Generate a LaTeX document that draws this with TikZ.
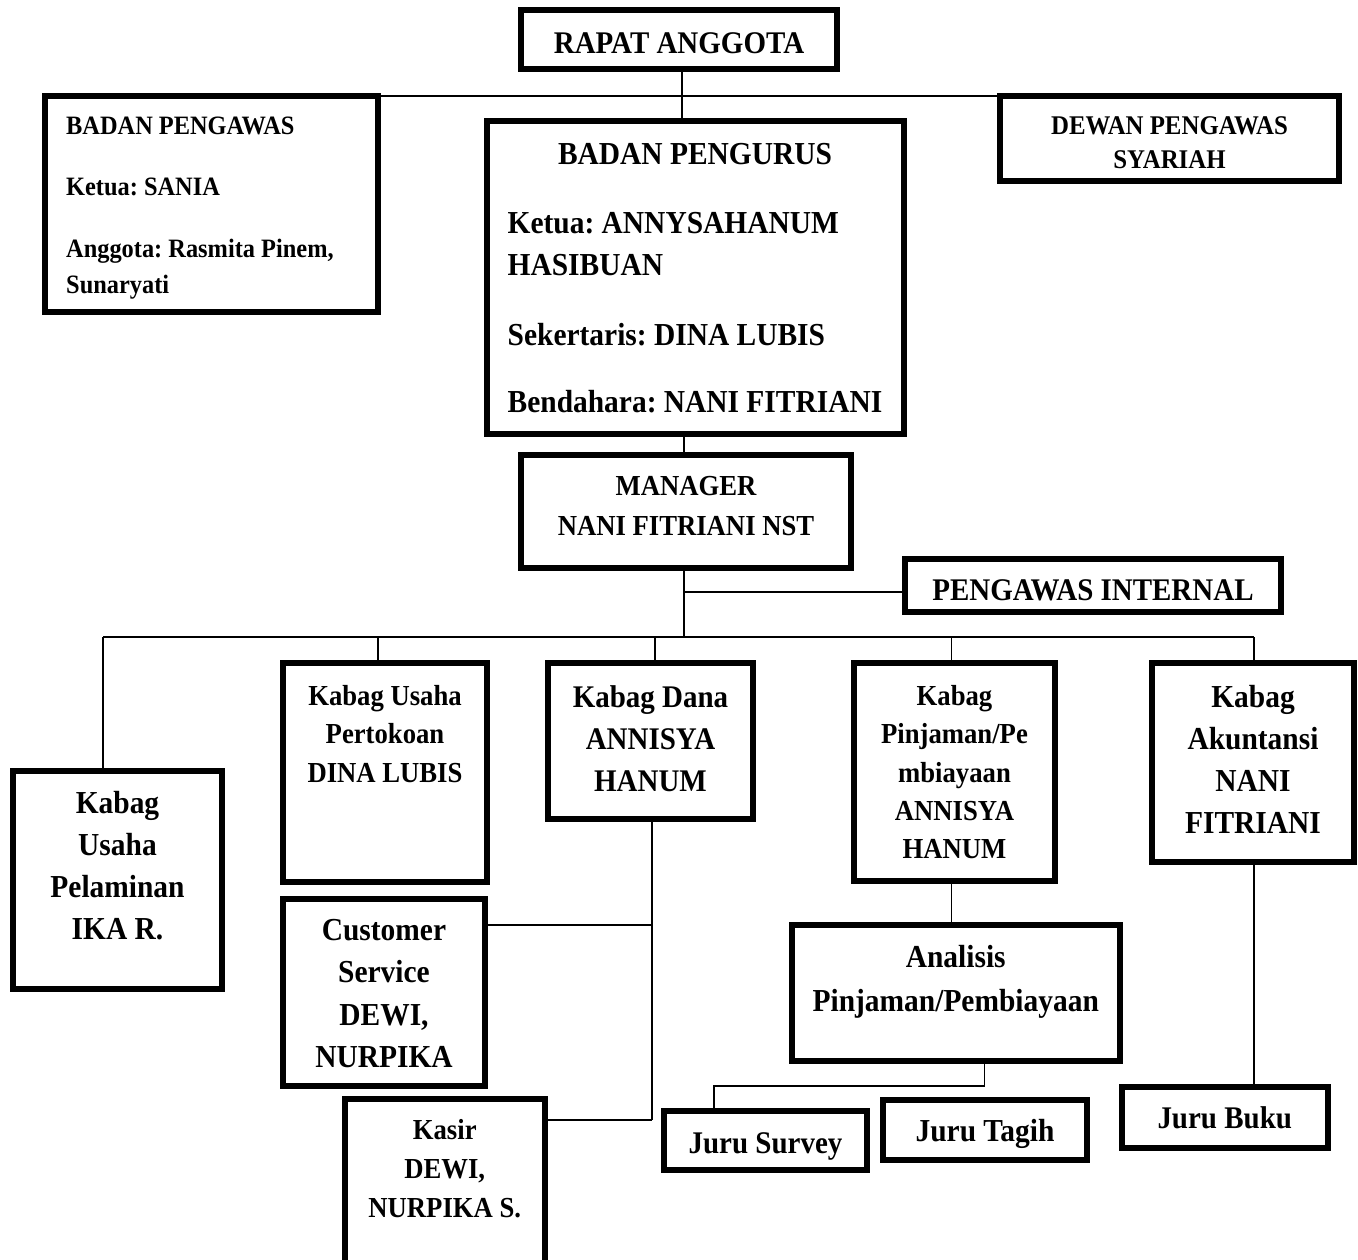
\documentclass[tikz,border=0pt]{standalone}
\usepackage{fontspec}
\setmainfont{Liberation Serif}[FakeStretch=0.92]
\frenchspacing
\tikzset{
  boxs/.style={draw=black, line width=6pt, inner sep=0pt, outer sep=0pt, fill=white},
  tx/.style={inner sep=0pt, anchor=base},
  txl/.style={inner sep=0pt, anchor=base west},
  conn/.style={draw=black, line width=1.8pt}
}
\newcommand\obox[5]{\node[boxs, minimum width={#4-#2-6}, minimum height={#5-#3-6}] (#1) at ({(#2+#4)/2},{(#3+#5)/2}) {};}
\newcommand\tline[5]{\node[tx, font=\fontsize{#2}{#2}\selectfont\bfseries] (#1) at (#3,#4) {#5};}
\newcommand\tlineL[5]{\node[txl, font=\fontsize{#2}{#2}\selectfont\bfseries] (#1) at (#3,#4) {#5};}
\begin{document}
\begin{tikzpicture}[x=1pt, y=-1pt]
\useasboundingbox[fill=white] (0,0) rectangle (1358,1259);

% boxes
\obox{rapat}{518}{7}{840}{72}
\obox{bpeng}{42}{93}{381}{315}
\obox{dewan}{997}{93}{1342}{184}
\obox{pengurus}{483.5}{118}{907}{437}
\obox{manager}{518}{452}{854}{571}
\obox{internal}{902}{556}{1284}{615}
\obox{pel}{10}{768}{225}{992}
\obox{pert}{280}{660}{490}{885}
\obox{dana}{545}{660}{756}{822}
\obox{pin}{851}{660}{1058}{884}
\obox{akun}{1149}{660}{1357}{865}
\obox{cs}{280}{896}{488}{1089}
\obox{kasir}{341.5}{1096}{548}{1275}
\obox{anal}{788.5}{922}{1123}{1064}
\obox{survey}{661}{1108}{870}{1173}
\obox{tagih}{880}{1097}{1090}{1163}
\obox{buku}{1118.5}{1084}{1331}{1151}

% junction coordinates
\coordinate (j1) at (682,96);
\coordinate (j2) at (684,637);
\coordinate (j3) at (683,592);
\coordinate (busL) at (103,637);
\coordinate (busR) at (1254,637);
\coordinate (dPer) at (378,637);
\coordinate (dDana) at (655,637);
\coordinate (dPin) at (951.5,637);
\coordinate (dv) at (652,1120);
\coordinate (csj) at (652,925);
\coordinate (aj) at (984.5,1086);
\coordinate (sj) at (714,1086);

% connectors
\draw[conn] (j1 |- rapat.south) -- (j1 |- pengurus.north);
\draw[conn] (bpeng.east |- j1) -- (dewan.west |- j1);
\draw[conn] (j2 |- pengurus.south) -- (j2 |- manager.north);
\draw[conn] (j2 |- manager.south) -- (j2);
\draw[conn] (j3) -- (internal.west |- j3);
\draw[conn] (busL) -- (busR);
\draw[conn] (busL) -- (busL |- pel.north);
\draw[conn] (dPer) -- (dPer |- pert.north);
\draw[conn] (dDana) -- (dDana |- dana.north);
\draw[conn] (dPin) -- (dPin |- pin.north);
\draw[conn] (busR) -- (busR |- akun.north);
\draw[conn] (dv |- dana.south) -- (dv);
\draw[conn] (csj -| cs.east) -- (csj);
\draw[conn] (kasir.east |- dv) -- (dv);
\draw[conn] (dPin |- pin.south) -- (dPin |- anal.north);
\draw[conn] (aj |- anal.south) -- (aj) -- (sj) -- (sj |- survey.north);
\draw[conn] (busR |- akun.south) -- (busR |- buku.north);

% texts
\tline{tRapat}{31.5}{679}{53}{RAPAT ANGGOTA}

\tlineL{tBp1}{26.5}{66}{134}{BADAN PENGAWAS}
\tlineL{tBp2}{26.5}{66}{195}{Ketua: SANIA}
\tlineL{tBp3}{26.5}{66}{257}{Anggota: Rasmita Pinem,}
\tlineL{tBp4}{26.5}{66}{293}{Sunaryati}

\tline{tDw1}{27}{1169.5}{134}{DEWAN PENGAWAS}
\tline{tDw2}{27}{1169.5}{168}{SYARIAH}

\tline{tPg1}{32}{695}{164}{BADAN PENGURUS}
\tlineL{tPg2}{32}{507.5}{233}{Ketua: ANNYSAHANUM}
\tlineL{tPg3}{32}{507.5}{275}{HASIBUAN}
\tlineL{tPg4}{32}{507.5}{345}{Sekertaris: DINA LUBIS}
\tlineL{tPg5}{32}{507.5}{412}{Bendahara: NANI FITRIANI}

\tline{tMg1}{29}{686}{495}{MANAGER}
\tline{tMg2}{29}{686}{535}{NANI FITRIANI NST}

\tline{tIn}{31.5}{1093}{600}{PENGAWAS INTERNAL}

\tline{tPl1}{32}{117.5}{813}{Kabag}
\tline{tPl2}{32}{117.5}{855}{Usaha}
\tline{tPl3}{32}{117.5}{897}{Pelaminan}
\tline{tPl4}{32}{117.5}{939}{IKA R.}

\tline{tPt1}{29}{385}{705}{Kabag Usaha}
\tline{tPt2}{29}{385}{743}{Pertokoan}
\tline{tPt3}{29}{385}{782}{DINA LUBIS}

\tline{tDn1}{31.5}{650.5}{707}{Kabag Dana}
\tline{tDn2}{31.5}{650.5}{749}{ANNISYA}
\tline{tDn3}{31.5}{650.5}{791}{HANUM}

\tline{tPn1}{29}{954.5}{705}{Kabag}
\tline{tPn2}{29}{954.5}{743}{Pinjaman/Pe}
\tline{tPn3}{29}{954.5}{782}{mbiayaan}
\tline{tPn4}{29}{954.5}{820}{ANNISYA}
\tline{tPn5}{29}{954.5}{858}{HANUM}

\tline{tAk1}{32}{1253}{707}{Kabag}
\tline{tAk2}{32}{1253}{749}{Akuntansi}
\tline{tAk3}{32}{1253}{791}{NANI}
\tline{tAk4}{32}{1253}{833}{FITRIANI}

\tline{tCs1}{32}{384}{940}{Customer}
\tline{tCs2}{32}{384}{982}{Service}
\tline{tCs3}{32}{384}{1025}{DEWI,}
\tline{tCs4}{32}{384}{1067}{NURPIKA}

\tline{tKs1}{29}{444.75}{1139}{Kasir}
\tline{tKs2}{29}{444.75}{1178}{DEWI,}
\tline{tKs3}{29}{444.75}{1217}{NURPIKA S.}

\tline{tAn1}{32}{955.75}{967}{Analisis}
\tline{tAn2}{32}{955.75}{1011}{Pinjaman/Pembiayaan}

\tline{tSv}{31.5}{765.5}{1153}{Juru Survey}
\tline{tTg}{32}{985}{1141}{Juru Tagih}
\tline{tBk}{31.5}{1224.75}{1128}{Juru Buku}
\end{tikzpicture}
\end{document}
